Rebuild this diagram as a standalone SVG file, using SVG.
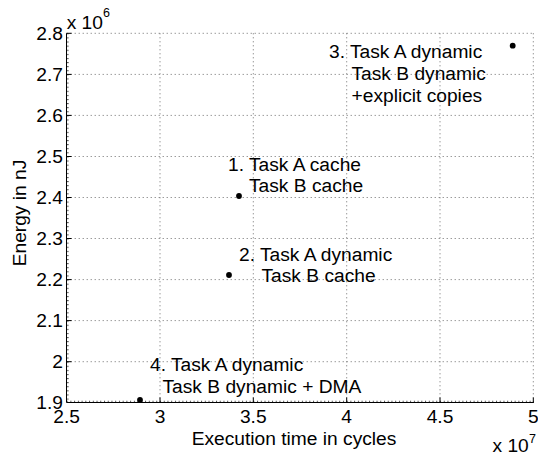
<svg xmlns="http://www.w3.org/2000/svg" width="538" height="456" viewBox="0 0 538 456">
  <style>
    text { font-family: "Liberation Sans", Arial, Helvetica, sans-serif; font-size: 19.2px; fill: #000; }
    .sup { font-size: 12.5px; }
    .grid { stroke: #6e6e6e; stroke-width: 1; stroke-dasharray: 1 3; fill: none; }
    .axis { stroke: #000; stroke-width: 1; fill: none; }
    .tick { stroke: #000; stroke-width: 1; }
    .pt { fill: #000; }
  </style>
  <defs>
    <!-- minor tick marks along the axes -->
    <pattern id="minorX" patternUnits="userSpaceOnUse" x="66.67" y="0" width="3.7333" height="456">
      <rect x="0" y="0" width="1" height="456" fill="#555"/>
    </pattern>
    <pattern id="minorY" patternUnits="userSpaceOnUse" x="0" y="33.33" width="538" height="4.104">
      <rect x="0" y="0" width="538" height="1" fill="#555"/>
    </pattern>
  </defs>

  <rect width="538" height="456" fill="#fff"/>

  <!-- dotted grid -->
  <g id="grid" class="grid">
    <path d="M160 33.3V402.7M253.3 33.3V402.7M346.7 33.3V402.7M440 33.3V402.7M533.3 33.3V402.7"/>
    <path d="M66.7 33.3H533.3M66.7 74.4H533.3M66.7 115.4H533.3M66.7 156.5H533.3M66.7 197.5H533.3M66.7 238.5H533.3M66.7 279.6H533.3M66.7 320.6H533.3M66.7 361.7H533.3"/>
  </g>

  <!-- axes with ticks -->
  <g id="axes">
    <rect x="66.67" y="400.7" width="467" height="2" fill="url(#minorX)"/>
    <rect x="66.67" y="33.33" width="2" height="369.4" fill="url(#minorY)"/>
    <path class="axis" d="M66.5 33.3V402.5H533.8"/>
    <path class="tick" d="M160 402.5v-5M253.3 402.5v-5M346.7 402.5v-5M440 402.5v-5M533.3 402.5v-5M66.5 33.3h5M66.5 74.4h5M66.5 115.4h5M66.5 156.5h5M66.5 197.5h5M66.5 238.5h5M66.5 279.6h5M66.5 320.6h5M66.5 361.7h5"/>
  </g>

  <!-- tick labels -->
  <g id="ylabels" text-anchor="end">
    <text x="63" y="40.3">2.8</text>
    <text x="63" y="81.3">2.7</text>
    <text x="63" y="122.3">2.6</text>
    <text x="63" y="163.3">2.5</text>
    <text x="63" y="204.3">2.4</text>
    <text x="63" y="245.3">2.3</text>
    <text x="63" y="286.3">2.2</text>
    <text x="63" y="327.3">2.1</text>
    <text x="63" y="368.3">2</text>
    <text x="63" y="409.3">1.9</text>
  </g>
  <g id="xlabels" text-anchor="middle">
    <text x="66.7" y="423">2.5</text>
    <text x="160" y="423">3</text>
    <text x="253.3" y="423">3.5</text>
    <text x="346.7" y="423">4</text>
    <text x="440" y="423">4.5</text>
    <text x="533.3" y="423">5</text>
  </g>

  <!-- exponents -->
  <g id="yexp"><text x="66.7" y="28.5">x 10</text><text class="sup" x="103" y="17">6</text></g>
  <g id="xexp"><text x="492.5" y="451.5">x 10</text><text class="sup" x="529" y="443">7</text></g>

  <!-- axis titles -->
  <text id="xtitle" x="294" y="445" text-anchor="middle">Execution time in cycles</text>
  <text id="ytitle" transform="translate(26 213) rotate(-90)" text-anchor="middle">Energy in nJ</text>

  <!-- data points with annotations -->
  <g id="p1">
    <circle class="pt" cx="239" cy="196" r="2.9"/>
    <text x="228" y="170.7">1. Task A cache</text>
    <text x="249" y="191.7">Task B cache</text>
  </g>
  <g id="p2">
    <circle class="pt" cx="229" cy="275" r="2.9"/>
    <text x="239" y="260.7">2. Task A dynamic</text>
    <text x="261.5" y="281.7">Task B cache</text>
  </g>
  <g id="p3">
    <circle class="pt" cx="512.7" cy="45.7" r="2.9"/>
    <text x="329" y="58.3">3. Task A dynamic</text>
    <text x="351.5" y="80">Task B dynamic</text>
    <text x="351.5" y="101.7">+explicit copies</text>
  </g>
  <g id="p4">
    <circle class="pt" cx="140" cy="400" r="2.9"/>
    <text x="150" y="371">4. Task A dynamic</text>
    <text x="162.5" y="392.7">Task B dynamic + DMA</text>
  </g>
</svg>
